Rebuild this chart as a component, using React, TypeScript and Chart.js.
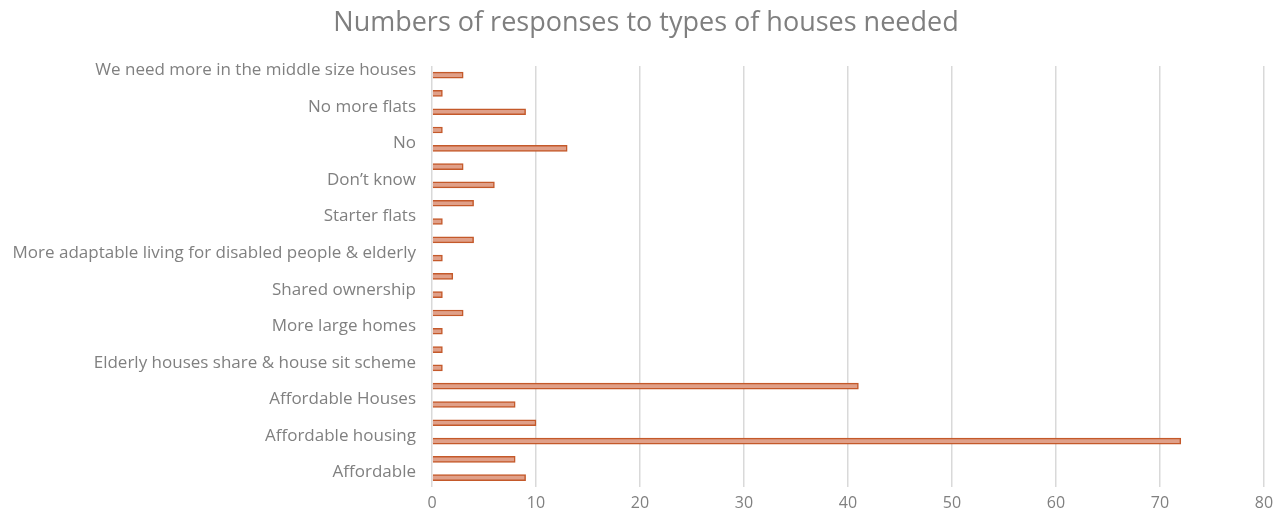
import React, { useEffect, useRef } from "react";
import { Chart, registerables } from "chart.js";

Chart.register(...registerables);

// Categories listed top to bottom; unreadable (skipped) labels left blank
const categories: string[] = [
  "We need more in the middle size houses",
  "",
  "No more flats",
  "",
  "No",
  "",
  "Don\u2019t know",
  "",
  "Starter flats",
  "",
  "More adaptable living for disabled people & elderly",
  "",
  "Shared ownership",
  "",
  "More large homes",
  "",
  "Elderly houses share & house sit scheme",
  "",
  "Affordable Houses",
  "",
  "Affordable housing",
  "",
  "Affordable",
];

const responses: number[] = [3, 1, 9, 1, 13, 3, 6, 4, 1, 4, 1, 2, 1, 3, 1, 1, 1, 41, 8, 10, 72, 8, 9];

const xTicks = { min: 0, max: 80, step: 10 };

const titleText = "Numbers of responses to types of houses needed";

const FONT = "'Open Sans', 'Noto Sans', sans-serif";

const titlePlugin = {
  id: "centeredTitle",
  afterDraw(chart: any) {
    const ctx = chart.ctx;
    ctx.save();
    ctx.font = `normal 27px ${FONT}`;
    ctx.fillStyle = "#7F7F7F";
    ctx.textAlign = "center";
    ctx.textBaseline = "middle";
    ctx.fillText(titleText, chart.width / 2 + 2, 23);
    ctx.restore();
  },
};

export default function App() {
  const ref = useRef<HTMLCanvasElement | null>(null);
  useEffect(() => {
    if (!ref.current) return;
    const chart = new Chart(ref.current, {
      type: "bar",
      data: {
        labels: categories,
        datasets: [
          {
            data: responses,
            backgroundColor: "#E0A089",
            borderColor: "#C4592A",
            borderWidth: 1.5,
            barThickness: 6,
          },
        ],
      },
      plugins: [titlePlugin],
      options: {
        indexAxis: "y",
        animation: false,
        responsive: true,
        maintainAspectRatio: false,
        layout: { padding: { left: 0, right: 24, top: 66, bottom: -9 } },
        plugins: {
          legend: { display: false },
          tooltip: { enabled: false },
          title: { display: false },
        },
        scales: {
          x: {
            min: xTicks.min,
            max: xTicks.max,
            ticks: { stepSize: xTicks.step, color: "#808080", font: { family: FONT, size: 16 }, padding: 7 },
            grid: { color: "#D9D9D9", lineWidth: 1.5, drawTicks: false },
            border: { display: false },
          },
          y: {
            afterFit: (scale: any) => {
              scale.width = 432;
            },
            ticks: {
              autoSkip: false,
              color: "#808080",
              font: { family: FONT, size: 17 },
              padding: 16,
              labelOffset: -5,
              callback: (_v: any, i: number) => (i % 2 === 0 ? categories[i] : ""),
            },
            grid: { display: false, drawTicks: false },
            border: { display: false },
          },
        },
      },
    });
    return () => chart.destroy();
  }, []);
  return (
    <div style={{ position: "fixed", left: 0, top: 0, width: 1288, height: 513, background: "#fff" }}>
      <canvas ref={ref} />
    </div>
  );
}
